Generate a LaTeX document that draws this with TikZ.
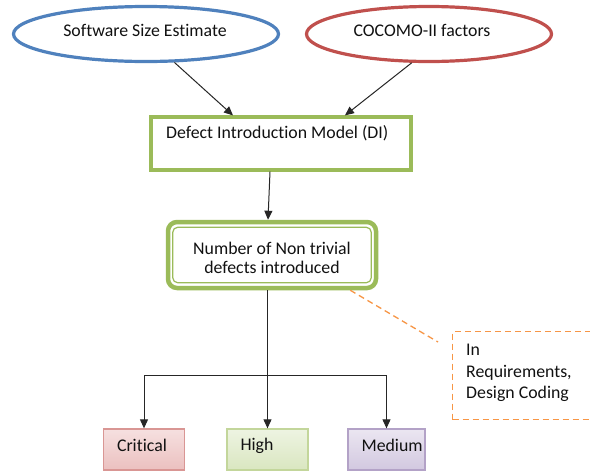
\documentclass[tikz,border=0pt]{standalone}
\usepackage{fontspec}
\setmainfont{Carlito}[Ligatures=NoCommon]
\usetikzlibrary{arrows.meta,shapes.geometric}
\definecolor{ofblue}{HTML}{4F81BD}
\definecolor{ofred}{HTML}{C0504D}
\definecolor{ofgreen}{HTML}{9BBB59}
\definecolor{oforange}{HTML}{F79646}
\definecolor{inktext}{HTML}{111111}
\definecolor{critline}{HTML}{D99694}
\definecolor{crittop}{HTML}{F6E0E0}
\definecolor{critbot}{HTML}{EBC0BF}
\definecolor{highline}{HTML}{C3D69B}
\definecolor{hightop}{HTML}{EEF4E2}
\definecolor{highbot}{HTML}{D9E6C0}
\definecolor{medline}{HTML}{B3A2C7}
\definecolor{medtop}{HTML}{EBE6F1}
\definecolor{medbot}{HTML}{D2C8E0}
\tikzset{
  arr/.style={draw=black!85, line width=1pt, -{Triangle[length=9pt,width=8pt]}},
  source/.style={ellipse, line width=3.2pt, minimum width=265pt, minimum height=55pt, fill=white},
  modelbox/.style={rectangle, draw=ofgreen, line width=3.2pt, fill=white},
  levelbox/.style={rectangle, line width=1.3pt, minimum width=81pt, minimum height=41pt},
  txt/.style={text=inktext, inner sep=0pt},
}
\begin{document}
\begin{tikzpicture}[x=1pt, y=-1pt, font=\fontsize{17.8}{19}\selectfont]
\clip (0,0) rectangle (590,472);
\fill[white] (0,0) rectangle (590,472);

% inputs
\node[source, draw=ofblue] (sse) at (146,34) {};
\node[txt] (sselabel) at (145,30) {Software Size Estimate};
\node[source, draw=ofred, minimum width=245pt] (coc) at (429,34) {};
\node[txt] (coclabel) at (422,30) {COCOMO-II factors};

% defect introduction model
\node[modelbox, minimum width=260pt, minimum height=53pt] (di) at (281,143.5) {};
\node[txt, anchor=west] (dilabel) at (166,133) {Defect Introduction Model (DI)};

\draw[arr] (sse.-45) -- ([xshift=-48pt]di.north);
\draw[arr] (coc.-121) -- ([xshift=64pt]di.north);

% number of defects: thick outer frame with a thin inner rule
\node[rectangle, rounded corners=9pt, draw=ofgreen, line width=4.5pt, fill=white,
      minimum width=208pt, minimum height=66pt] (num) at (272,255) {};
\draw[ofgreen, line width=1.2pt, rounded corners=5pt]
  ([shift={(7pt,-7.5pt)}]num.north west) rectangle ([shift={(-7pt,7.5pt)}]num.south east);
\node[txt, align=center] (numlabel) at (272,258) {Number of Non trivial\\defects introduced};

\draw[arr] ([xshift=-11pt]di.south) -- ([xshift=-4pt]num.north);

% severity levels
\node[levelbox, draw=critline, top color=crittop, bottom color=critbot] (crit) at (144,449.5) {};
\node[levelbox, draw=highline, top color=hightop, bottom color=highbot] (high) at (267.5,449.5) {};
\node[levelbox, draw=medline, top color=medtop, bottom color=medbot, minimum width=77pt] (med) at (386.5,449.5) {};
\node[txt, anchor=west] (critlabel) at ([shift={(14pt,4pt)}]crit.west) {Critical};
\node[txt, anchor=west] (highlabel) at ([shift={(14pt,4pt)}]high.west) {High};
\node[txt, anchor=west] (medlabel) at ([shift={(14pt,4pt)}]med.west) {Medium};

\coordinate (split) at (268,375);
\draw[draw=black!85, line width=1pt] (split -| crit.north) -- (split -| med.north);
\draw[arr] (high.north |- num.south) -- (high.north);
\draw[arr] (split -| crit.north) -- (crit.north);
\draw[arr] (split -| med.north) -- (med.north);

% phase note
\node[draw=oforange, dash pattern=on 6pt off 4pt, line width=1.3pt, anchor=north west,
      minimum width=160pt, minimum height=88pt] (note) at (452,331) {};
\node[txt, anchor=north west, align=left, font=\fontsize{17.8}{21.5}\selectfont]
      (notelabel) at (466,344) {In\\Requirements,\\Design Coding};
\draw[oforange, dash pattern=on 6pt off 4pt, line width=1.3pt]
  ([xshift=-28pt]num.south east) -- ([shift={(-14pt,-11pt)}]note.north west);
\end{tikzpicture}
\end{document}
